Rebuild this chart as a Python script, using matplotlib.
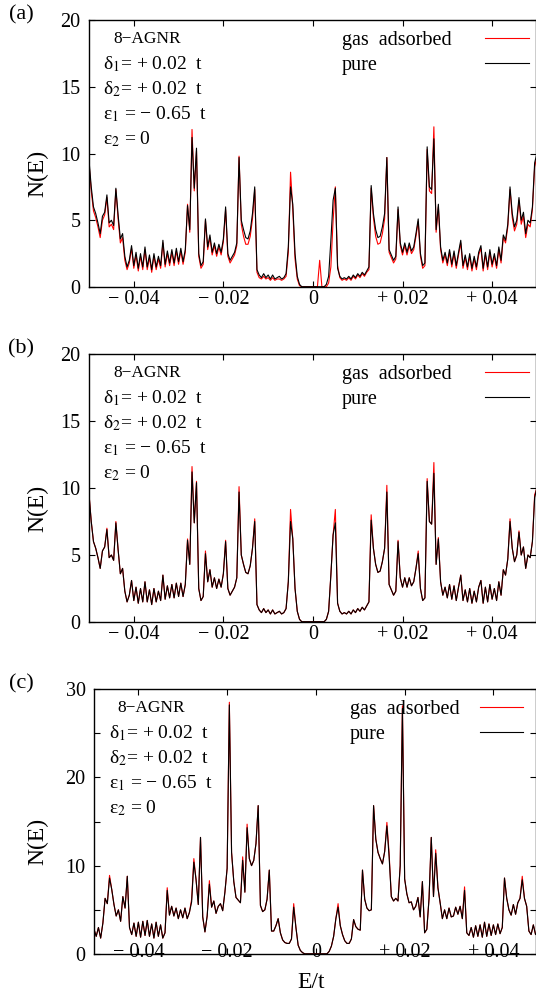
import numpy as np
import matplotlib.pyplot as plt
from matplotlib.lines import Line2D

W, H = 536, 994

plt.rcParams['font.family'] = ['Liberation Serif', 'DejaVu Serif']
plt.rcParams['mathtext.fontset'] = 'stix'

# energy grid E/t (step 0.0005)
energy = np.linspace(-0.05, 0.05, 201)

# panels (a) and (b): pure ribbon (same in both)
pure_ab = [
    9.5, 7.5, 6.0, 5.5, 4.8, 4.0, 5.3, 5.6, 6.9, 4.8,
    5.0, 4.6, 7.4, 5.4, 3.6, 4.0, 2.3, 1.5, 2.0, 3.1,
    1.6, 2.6, 1.4, 2.5, 1.5, 3.0, 1.5, 2.4, 1.3, 2.5,
    1.5, 2.3, 1.6, 3.5, 1.7, 2.7, 1.8, 2.8, 1.8, 2.9,
    1.9, 2.9, 1.9, 2.8, 6.1, 4.3, 11.2, 7.4, 10.4, 2.5,
    1.6, 1.9, 5.1, 3.0, 3.9, 2.6, 3.3, 2.5, 3.2, 2.6,
    3.6, 6.0, 2.5, 2.0, 2.3, 2.6, 3.3, 9.7, 5.0, 4.3,
    3.7, 3.6, 4.2, 5.5, 7.5, 1.3, 0.9, 0.7, 1.0, 0.7,
    0.9, 0.6, 0.9, 0.6, 0.7, 0.8, 0.6, 0.7, 1.0, 3.0,
    7.5, 6.2, 2.5, 0.8, 0.2, 0.02, 0.02, 0.02, 0.02, 0.02,
    0.02, 0.02, 0.02, 0.02, 0.02, 0.02, 0.2, 0.8, 3.5, 6.5,
    7.4, 1.4, 0.8, 0.6, 0.7, 0.6, 0.8, 0.6, 0.9, 0.7,
    1.0, 0.8, 1.1, 0.9, 1.2, 1.5, 7.6, 5.5, 4.3, 3.7,
    3.8, 4.5, 5.5, 9.7, 2.8, 2.4, 2.0, 2.3, 6.0, 3.3,
    2.6, 3.3, 2.6, 3.3, 2.7, 3.0, 4.0, 5.1, 2.5, 1.6,
    1.8, 10.5, 7.5, 7.3, 11.1, 4.3, 6.2, 3.0, 2.0, 2.6,
    1.8, 2.8, 1.7, 2.7, 1.6, 2.6, 3.5, 1.6, 2.4, 1.5,
    2.5, 1.4, 2.3, 1.5, 2.6, 3.1, 1.4, 2.6, 1.5, 2.8,
    1.7, 2.5, 1.6, 3.0, 2.0, 3.9, 3.5, 4.7, 7.5, 5.5,
    4.5, 5.0, 6.7, 5.0, 5.6, 4.0, 5.0, 4.8, 6.0, 9.3,
    10.0,
]

# panel (a): gas adsorbed
gas_a = [
    9.3, 7.2, 5.7, 5.2, 4.5, 3.7, 5.0, 5.4, 6.7, 4.5,
    4.7, 4.3, 7.3, 5.1, 3.3, 3.7, 2.0, 1.3, 1.8, 2.9,
    1.4, 2.4, 1.2, 2.3, 1.3, 2.8, 1.3, 2.2, 1.1, 2.3,
    1.3, 2.1, 1.4, 3.3, 1.5, 2.5, 1.6, 2.6, 1.6, 2.7,
    1.7, 2.7, 1.7, 2.6, 6.2, 4.1, 11.8, 7.2, 10.2, 2.3,
    1.4, 1.7, 5.0, 2.8, 3.7, 2.4, 3.1, 2.3, 3.0, 2.4,
    3.4, 5.8, 2.3, 1.8, 2.1, 2.4, 3.1, 9.8, 4.7, 3.8,
    3.2, 3.2, 3.8, 5.1, 7.3, 1.1, 0.7, 0.6, 0.8, 0.6,
    0.7, 0.5, 0.7, 0.5, 0.6, 0.6, 0.5, 0.6, 0.8, 2.6,
    8.6, 5.8, 2.1, 0.6, 0.1, 0.02, 0.02, 0.02, 0.02, 0.02,
    0.02, 0.02, 0.02, 2.0, 0.02, 0.02, 0.02, 0.3, 1.5, 5.0,
    7.5, 1.6, 0.7, 0.5, 0.6, 0.5, 0.7, 0.5, 0.8, 0.6,
    0.9, 0.7, 1.0, 0.8, 1.1, 1.3, 7.4, 5.2, 3.8, 3.2,
    3.3, 4.0, 5.1, 9.7, 2.6, 2.2, 1.8, 2.1, 5.8, 3.1,
    2.4, 3.1, 2.4, 3.1, 2.5, 2.8, 3.8, 4.9, 2.3, 1.4,
    1.6, 10.3, 7.2, 7.0, 12.0, 4.1, 6.0, 2.8, 1.8, 2.4,
    1.6, 2.6, 1.5, 2.5, 1.4, 2.4, 3.3, 1.4, 2.2, 1.3,
    2.3, 1.2, 2.1, 1.3, 2.4, 2.9, 1.2, 2.4, 1.3, 2.6,
    1.5, 2.3, 1.4, 2.8, 1.8, 3.7, 3.3, 4.5, 7.3, 5.2,
    4.2, 4.7, 6.5, 4.7, 5.3, 3.7, 4.7, 4.5, 5.8, 9.0,
    9.8,
]

# panel (b): gas adsorbed
gas_b = [
    9.6, 7.5, 6.0, 5.5, 4.8, 4.0, 5.3, 5.6, 7.0, 4.8,
    5.0, 4.6, 7.5, 5.4, 3.6, 4.0, 2.3, 1.5, 2.0, 3.1,
    1.6, 2.6, 1.4, 2.5, 1.5, 3.0, 1.5, 2.4, 1.3, 2.5,
    1.5, 2.3, 1.6, 3.5, 1.7, 2.7, 1.8, 2.8, 1.8, 2.9,
    1.9, 2.9, 1.9, 2.8, 6.2, 4.3, 11.6, 7.4, 10.5, 2.5,
    1.6, 1.9, 5.3, 3.0, 3.9, 2.6, 3.3, 2.5, 3.2, 2.6,
    3.6, 6.1, 2.5, 2.0, 2.3, 2.6, 3.3, 10.1, 5.0, 4.3,
    3.7, 3.6, 4.2, 5.5, 7.7, 1.3, 0.9, 0.7, 1.0, 0.7,
    0.9, 0.6, 0.9, 0.6, 0.7, 0.8, 0.6, 0.7, 1.0, 3.0,
    8.4, 6.2, 2.5, 0.8, 0.2, 0.02, 0.02, 0.02, 0.02, 0.02,
    0.02, 0.02, 0.02, 0.02, 0.02, 0.02, 0.2, 0.8, 3.5, 6.5,
    8.4, 1.4, 0.8, 0.6, 0.7, 0.6, 0.8, 0.6, 0.9, 0.7,
    1.0, 0.8, 1.1, 0.9, 1.2, 1.5, 8.0, 5.5, 4.3, 3.7,
    3.8, 4.5, 5.5, 10.2, 2.8, 2.4, 2.0, 2.3, 6.1, 3.3,
    2.6, 3.3, 2.6, 3.3, 2.7, 3.0, 4.0, 5.3, 2.5, 1.6,
    1.8, 10.7, 7.5, 7.3, 11.9, 4.3, 6.3, 3.0, 2.0, 2.6,
    1.8, 2.8, 1.7, 2.7, 1.6, 2.6, 3.5, 1.6, 2.4, 1.5,
    2.5, 1.4, 2.3, 1.5, 2.6, 3.1, 1.4, 2.6, 1.5, 2.8,
    1.7, 2.5, 1.6, 3.0, 2.0, 3.9, 3.5, 4.7, 7.7, 5.5,
    4.5, 5.0, 6.8, 5.0, 5.6, 4.0, 5.0, 4.8, 6.0, 9.5,
    10.0,
]

# panel (c): pure ribbon
pure_c = [
    2.8, 2.0, 3.0, 1.8, 3.5, 6.3, 5.7, 8.6, 7.3, 5.6,
    4.3, 5.0, 3.7, 6.5, 5.2, 8.8, 3.0, 2.2, 3.5, 2.0,
    3.6, 1.9, 3.7, 2.1, 3.8, 2.0, 3.4, 1.8, 3.6, 2.0,
    3.3, 1.8, 2.4, 7.2, 4.4, 5.4, 4.3, 5.2, 4.0, 5.0,
    4.1, 5.2, 4.0, 4.7, 5.9, 10.4, 8.4, 5.6, 13.2, 4.2,
    2.5, 4.3, 7.9, 5.3, 6.0, 4.6, 5.4, 5.7, 4.9, 7.0,
    9.7, 28.2, 11.5, 8.2, 6.4, 6.1, 5.8, 10.6, 7.0, 14.3,
    10.8, 10.0, 10.6, 12.5, 16.8, 5.5, 4.8, 5.0, 6.2, 9.5,
    2.6, 2.6, 3.2, 4.0, 2.4, 1.6, 1.3, 1.2, 1.2, 1.7,
    5.3, 3.0, 1.0, 0.4, 0.15, 0.02, 0.02, 0.02, 0.02, 0.02,
    0.02, 0.02, 0.02, 0.02, 0.02, 0.02, 0.3, 0.9, 2.0, 4.0,
    5.3, 3.2, 2.2, 1.5, 1.2, 1.2, 1.7, 3.9, 3.1, 2.8,
    2.7, 9.5, 6.2, 5.2, 4.9, 5.0, 16.8, 13.0, 11.5, 10.8,
    10.2, 11.6, 14.5, 11.0, 6.5, 6.0, 6.3, 6.0, 10.0, 27.8,
    8.5, 6.8, 5.8, 5.9, 5.0, 5.4, 6.4, 4.2, 8.2, 2.4,
    2.8, 6.3, 13.2, 6.5, 11.4, 7.5, 5.8, 4.0, 5.0, 4.0,
    5.2, 4.2, 4.3, 5.3, 4.5, 5.4, 4.0, 7.2, 2.4, 2.1,
    3.0, 1.9, 3.2, 2.0, 3.3, 1.9, 3.6, 2.0, 3.4, 2.1,
    3.3, 2.2, 3.4, 2.3, 3.0, 8.6, 6.3, 5.0, 4.4, 5.6,
    4.5, 5.8, 6.3, 8.4, 6.3, 5.4, 2.6, 2.2, 3.3, 2.2,
    2.6,
]

# panel (c): gas adsorbed
gas_c = [
    2.8, 2.0, 3.0, 1.8, 3.5, 6.3, 5.7, 8.9, 7.3, 5.6,
    4.3, 5.0, 3.7, 6.5, 5.2, 8.8, 3.0, 2.2, 3.5, 2.0,
    3.6, 1.9, 3.7, 2.1, 3.8, 2.0, 3.4, 1.8, 3.6, 2.0,
    3.3, 1.8, 2.4, 7.5, 4.4, 5.4, 4.3, 5.2, 4.0, 5.0,
    4.1, 5.2, 4.0, 4.7, 6.2, 10.8, 8.4, 5.6, 13.2, 4.2,
    2.5, 4.3, 8.3, 5.3, 6.0, 4.6, 5.4, 5.7, 4.9, 7.0,
    9.7, 28.5, 11.5, 8.2, 6.4, 6.1, 5.8, 11.0, 7.0, 14.7,
    10.8, 10.0, 10.6, 12.5, 16.8, 5.5, 4.8, 5.0, 6.2, 9.5,
    2.6, 2.6, 3.2, 4.0, 2.4, 1.6, 1.3, 1.2, 1.2, 1.7,
    5.7, 3.0, 1.0, 0.4, 0.15, 0.02, 0.02, 0.02, 0.02, 0.02,
    0.02, 0.02, 0.02, 0.02, 0.02, 0.02, 0.3, 0.9, 2.0, 4.0,
    5.7, 3.2, 2.2, 1.5, 1.2, 1.2, 1.7, 3.9, 3.1, 2.8,
    2.7, 9.5, 6.2, 5.2, 4.9, 5.0, 16.8, 13.0, 11.5, 10.8,
    10.2, 11.6, 14.9, 11.4, 6.5, 6.0, 6.3, 6.0, 10.0, 28.1,
    8.5, 6.8, 5.8, 5.9, 5.0, 5.4, 6.4, 4.2, 8.2, 2.4,
    2.8, 6.3, 13.2, 6.5, 11.8, 7.5, 5.8, 4.0, 5.0, 4.0,
    5.2, 4.2, 4.3, 5.3, 4.5, 5.4, 4.0, 7.6, 2.4, 2.1,
    3.0, 1.9, 3.2, 2.0, 3.3, 1.9, 3.6, 2.0, 3.4, 2.1,
    3.3, 2.2, 3.4, 2.3, 3.0, 8.6, 6.3, 5.0, 4.4, 5.6,
    4.5, 5.8, 6.3, 8.8, 6.3, 5.4, 2.6, 2.2, 3.3, 2.2,
    2.6,
]

xtick_vals = [-0.04, -0.02, 0.0, 0.02, 0.04]
xtick_text = ['\u2212 0.04', '\u2212 0.02', '0', '+ 0.02', '+ 0.04']
param_lines = ['\u03b4$_1$= + 0.02  t', '\u03b4$_2$= + 0.02  t',
               '\u03b5$_1$ = \u2212 0.65  t', '\u03b5$_2$ = 0']
ribbon = '8\u2212AGNR'
legend_labels = ['gas  adsorbed', 'pure']
panel_tags = ['(a)', '(b)', '(c)']


def fx(px):
    return px / W


def fy(py):
    return 1 - py / H


fig = plt.figure(figsize=(W / 100, H / 100), dpi=100)

# left, top, right, bottom in pixels; x max; y max; label pad
panels = [
    dict(box=(89, 20, 536, 287), xmax=0.0498, ymax=20, yt=[0, 5, 10, 15, 20],
         ytl=['0', '5', '10', '15', '20'], gas=gas_a, pure=pure_ab, pad=2,
         txt_x=(113, 103), leg=(342, 485, 529)),
    dict(box=(89, 354, 536, 622), xmax=0.0498, ymax=20, yt=[0, 5, 10, 15, 20],
         ytl=['0', '5', '10', '15', '20'], gas=gas_b, pure=pure_ab, pad=2,
         txt_x=(113, 103), leg=(342, 485, 529)),
    dict(box=(94, 689, 536, 954), xmax=0.0496, ymax=30,
         yt=[0, 5, 10, 15, 20, 25, 30], ytl=['0', '', '10', '', '20', '', '30'],
         gas=gas_c, pure=pure_c, pad=-8, txt_x=(117, 109), leg=(350, 480, 523)),
]

for k, p in enumerate(panels):
    l, t, r, b = p['box']
    ax = fig.add_axes([fx(l), fy(b), (r - l) / W, (b - t) / H])
    ax.plot(energy, p['gas'], color='#ff0000', lw=0.8)
    ax.plot(energy, p['pure'], color='black', lw=0.8)
    ax.set_xlim(-0.05, p['xmax'])
    ax.set_ylim(0, p['ymax'])
    ax.set_xticks(xtick_vals)
    ax.set_xticklabels(xtick_text)
    ax.set_yticks(p['yt'])
    ax.set_yticklabels(p['ytl'])
    ax.tick_params(direction='in', top=True, right=True, length=4.5, width=0.8,
                   labelsize=14.5)
    ax.tick_params(axis='x', pad=p['pad'])
    ax.tick_params(axis='y', pad=6)
    for s in ax.spines.values():
        s.set_linewidth(1.0)

    # ribbon name and parameters
    fig.text(fx(p['txt_x'][0]), fy(t + 23), ribbon, fontsize=12.5, va='baseline')
    for j, line in enumerate(param_lines):
        fig.text(fx(p['txt_x'][1]), fy(t + 49 + 25 * j), line, fontsize=14,
                 va='baseline')

    # legend
    lx, h0, h1 = p['leg']
    for j, (lab, col) in enumerate(zip(legend_labels, ['#ff0000', 'black'])):
        fig.text(fx(lx), fy(t + 25 + 25 * j), lab, fontsize=14.5, va='baseline')
        fig.add_artist(Line2D([fx(h0), fx(h1)], [fy(t + 18 + 25 * j)] * 2,
                              color=col, lw=0.8))

    fig.text(fx(21), fy(t - 5), panel_tags[k], fontsize=16, ha='center',
             va='center')
    fig.text(fx(38), fy((t + b) / 2 + 20), 'N(E)', fontsize=17, rotation=90,
             ha='center', va='center')

fig.text(fx(311), fy(982), 'E/t', fontsize=17, ha='center', va='center')

fig.savefig('out.png', dpi=100)
